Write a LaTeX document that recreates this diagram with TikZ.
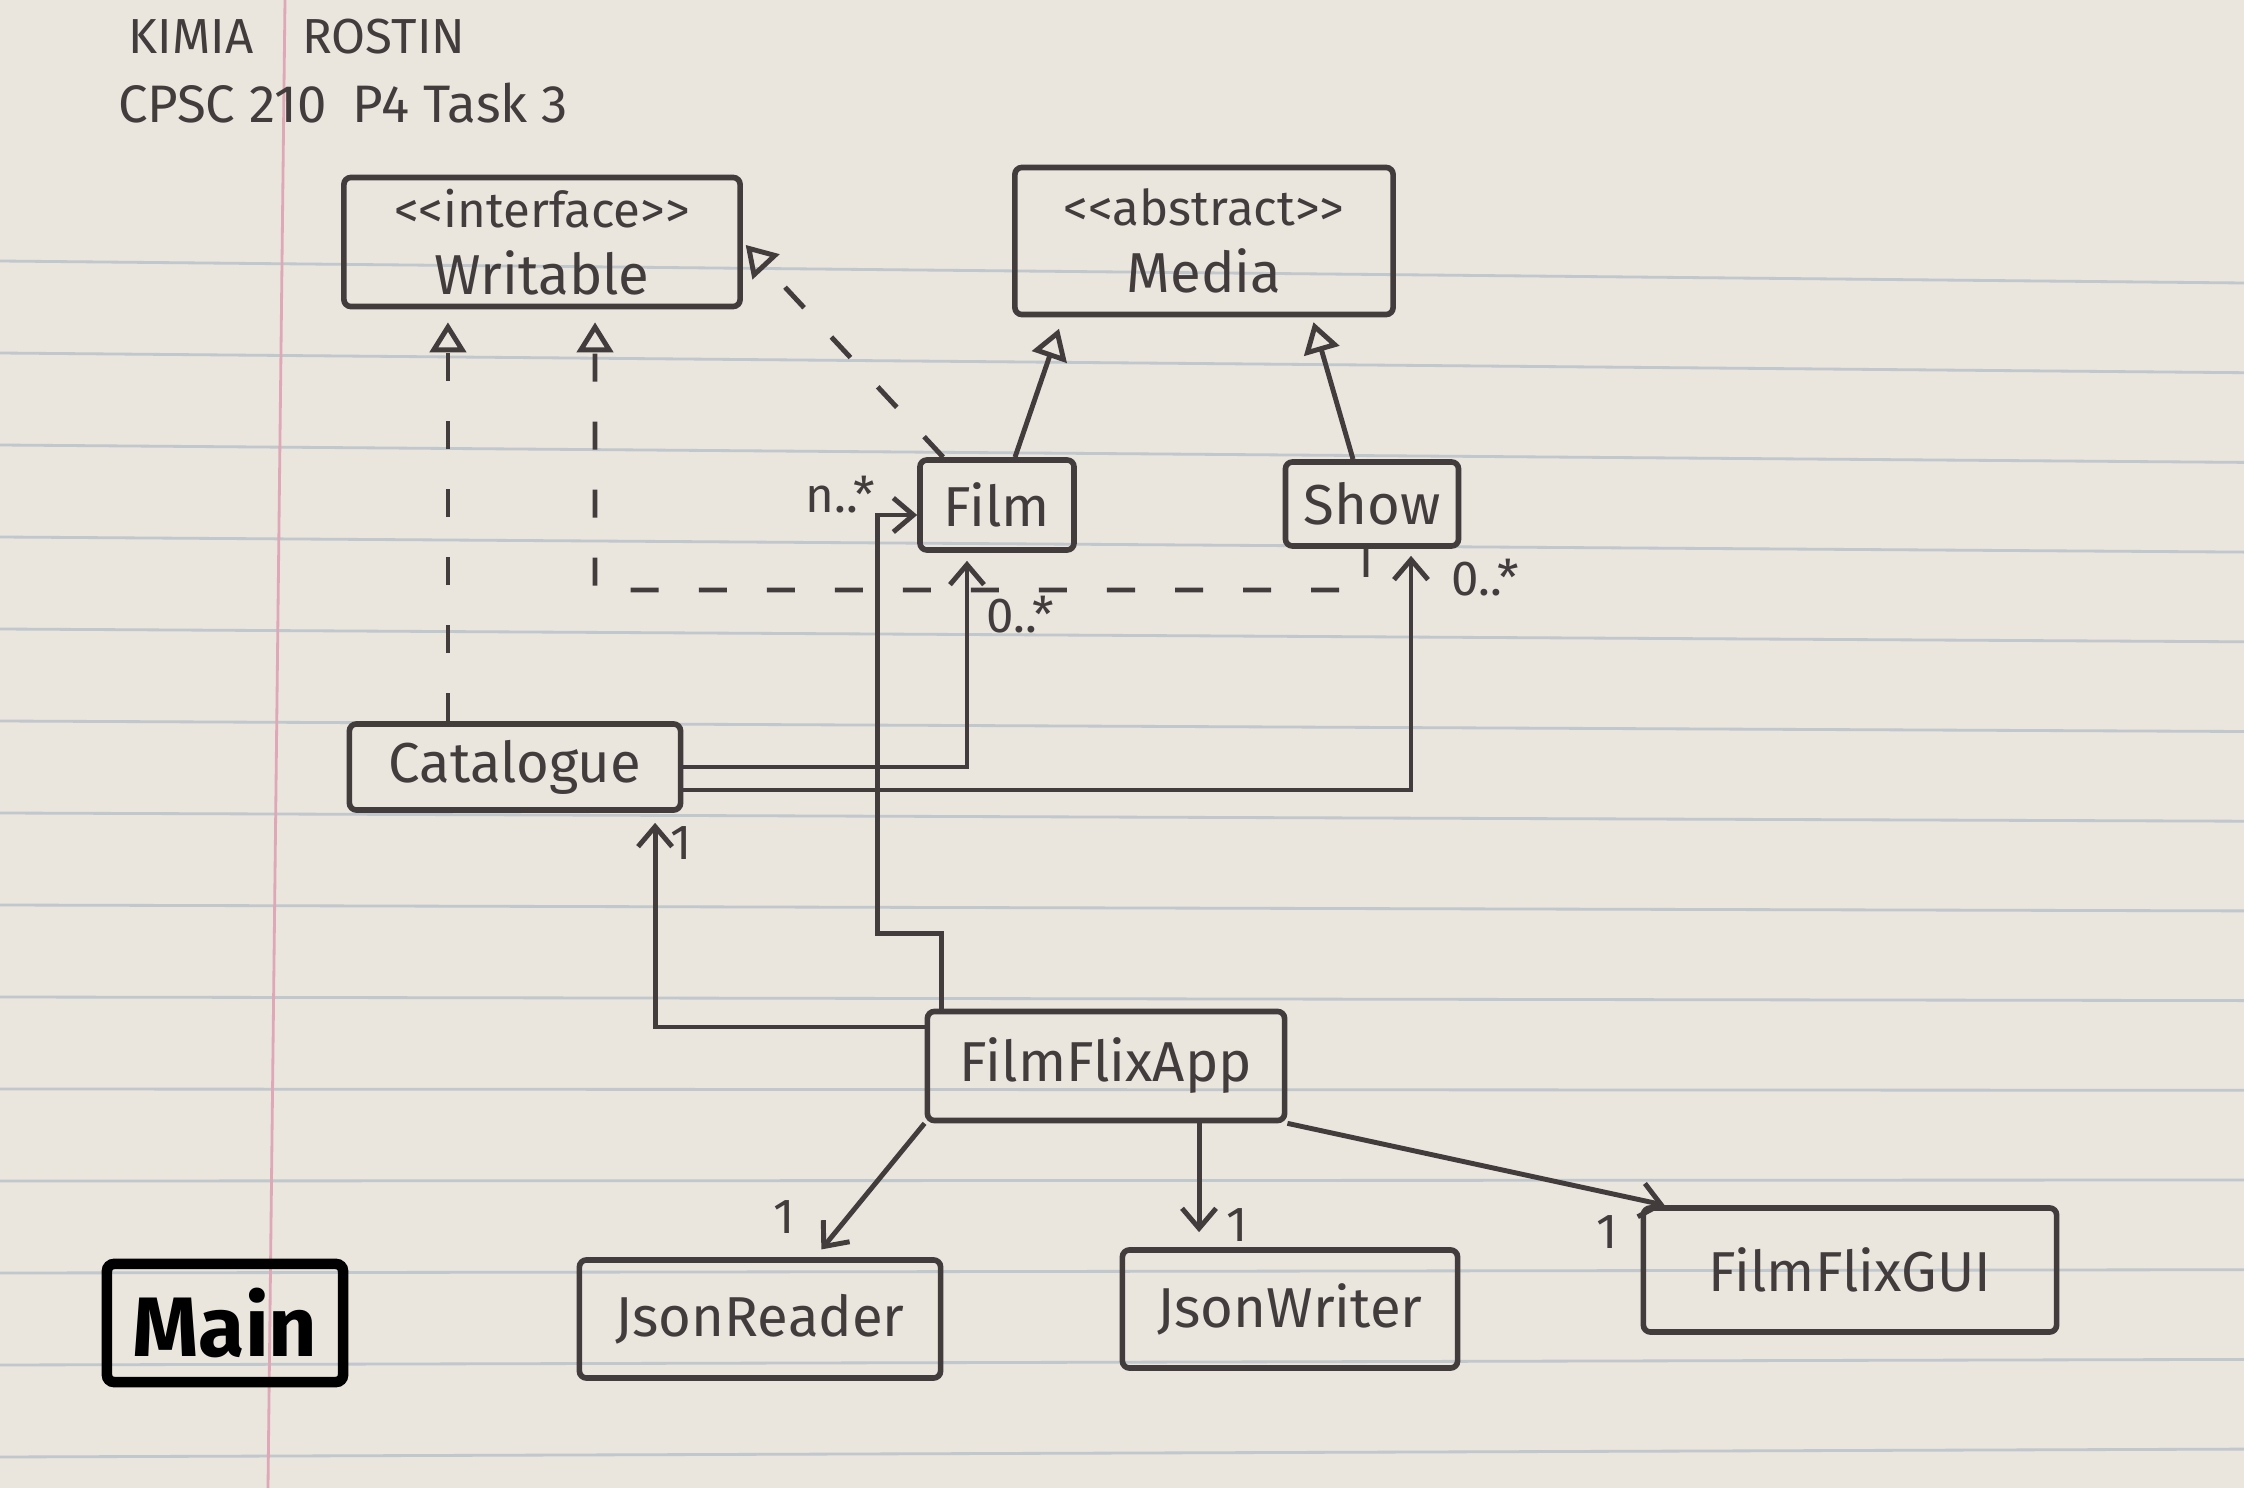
\documentclass[tikz,border=0pt]{standalone}
\usepackage{fontspec}
\setmainfont{Fira Sans}
\usetikzlibrary{arrows.meta}

\definecolor{paper}{RGB}{234,229,221}
\definecolor{ink}{RGB}{66,60,60}
\definecolor{ruleline}{RGB}{192,199,205}
\definecolor{marginline}{RGB}{222,168,182}

\begin{document}
\begin{tikzpicture}[x=0.01cm, y=-0.01cm,
  cls/.style={draw=ink, line width=1.6pt, rounded corners=2pt, inner sep=0pt, text=ink, font=\fontsize{16}{19}\selectfont},
  realize/.style={draw=ink, line width=1.4pt, dash pattern=on 0.28cm off 0.4cm, -{Triangle[open, length=0.3cm, width=0.36cm]}},
  gen/.style={draw=ink, line width=1.4pt, -{Triangle[open, length=0.3cm, width=0.36cm]}},
  assoc/.style={draw=ink, line width=1.4pt, -{Straight Barb[length=0.2cm, width=0.34cm]}},
  mult/.style={text=ink, inner sep=0pt, font=\fontsize{14}{16}\selectfont}]

\fill[paper] (0,0) rectangle (2244,1488);
\useasboundingbox (0,0) rectangle (2244,1488);
\foreach \k in {0,...,13}
  \draw[ruleline, line width=0.8pt] (0,{261+92*\k}) -- (2244,{283+89.7*\k});
\draw[marginline, line width=0.8pt] (285,0) -- (268,1488);

\node[text=ink, font=\fontsize{14}{16}\selectfont] (name) at (297,37) {KIMIA\quad ROSTIN};
\node[text=ink, font=\fontsize{15}{17}\selectfont] (course) at (343,103) {CPSC 210\enspace P4 Task 3};

\node[cls, minimum width=3.96cm, minimum height=1.29cm, align=center] (writable) at (542,242)
  {{\fontsize{14}{17}\selectfont <{}<interface>{}>}\\Writable};
\node[cls, minimum width=3.78cm, minimum height=1.47cm, align=center] (media) at (1204,241)
  {{\fontsize{14}{17}\selectfont <{}<abstract>{}>}\\Media};
\node[cls, minimum width=1.54cm, minimum height=0.9cm] (film) at (997,505) {Film};
\node[cls, minimum width=1.73cm, minimum height=0.84cm] (show) at (1372,504) {Show};
\node[cls, minimum width=3.31cm, minimum height=0.86cm] (catalogue) at (515,767) {Catalogue};
\node[cls, minimum width=3.57cm, minimum height=1.09cm] (app) at (1106,1066) {FilmFlixApp};
\node[cls, minimum width=3.61cm, minimum height=1.18cm] (reader) at (760,1319) {JsonReader};
\node[cls, minimum width=3.35cm, minimum height=1.18cm] (writer) at (1290,1309) {JsonWriter};
\node[cls, minimum width=4.13cm, minimum height=1.24cm] (gui) at (1850,1270) {FilmFlixGUI};
\node[cls, draw=black, text=black, line width=3pt, minimum width=2.36cm, minimum height=1.18cm,
  font=\fontsize{24}{28}\selectfont\bfseries] (main) at (225,1323) {Main};

\draw[realize, shorten >=0.13cm] ([xshift=-0.67cm]catalogue.north) -- ([xshift=-0.67cm]catalogue.north |- writable.south);
\coordinate (bend) at (595,590);
\draw[realize, shorten >=0.13cm] ([xshift=-0.06cm]show.south) |- (bend) -- ([xshift=0.53cm]writable.south);
\draw[realize, shorten >=0.04cm] ([xshift=0.26cm]film.north west) -- (writable.east);

\draw[gen, shorten >=0.12cm] ([xshift=0.18cm]film.north) -- ([xshift=-1.41cm]media.south);
\draw[gen, shorten >=0.05cm] ([xshift=-0.19cm]show.north) -- ([xshift=1.08cm]media.south);

\draw[assoc, shorten >=0.08cm] (catalogue.east) -| ([xshift=-0.30cm]film.south);
\draw[assoc, shorten >=0.07cm] ([yshift=-0.23cm]catalogue.east) -| ([xshift=0.39cm]show.south);
\draw[assoc] ([xshift=-1.64cm]app.north) -- ++(0,-75) -- ++(-64,0) |- ([yshift=-0.10cm]film.west);
\draw[assoc, shorten >=0.1cm] ([yshift=0.39cm]app.west) -| ([xshift=1.40cm]catalogue.south);
\draw[assoc, shorten >=0.1cm] (app.south west) -- ([xshift=0.55cm]reader.north);
\draw[assoc, shorten >=0.15cm] ([xshift=0.93cm]app.south) -- ([xshift=0.93cm]app.south |- writer.north);
\draw[assoc] (app.south east) -- ([xshift=0.24cm]gui.north west);

\node[mult] (filmmult) at (1020,615) {0..*};
\node[mult] (showmult) at (1485,578) {0..*};
\node[mult] (appfilmmult) at (840,495) {n..*};
\node[mult] (catmult) at (681,843) {1};
\node[mult] (readermult) at (784,1217) {1};
\node[mult] (writermult) at (1237,1225) {1};
\node[mult] (guimult) at (1607,1232) {1};

\end{tikzpicture}
\end{document}
